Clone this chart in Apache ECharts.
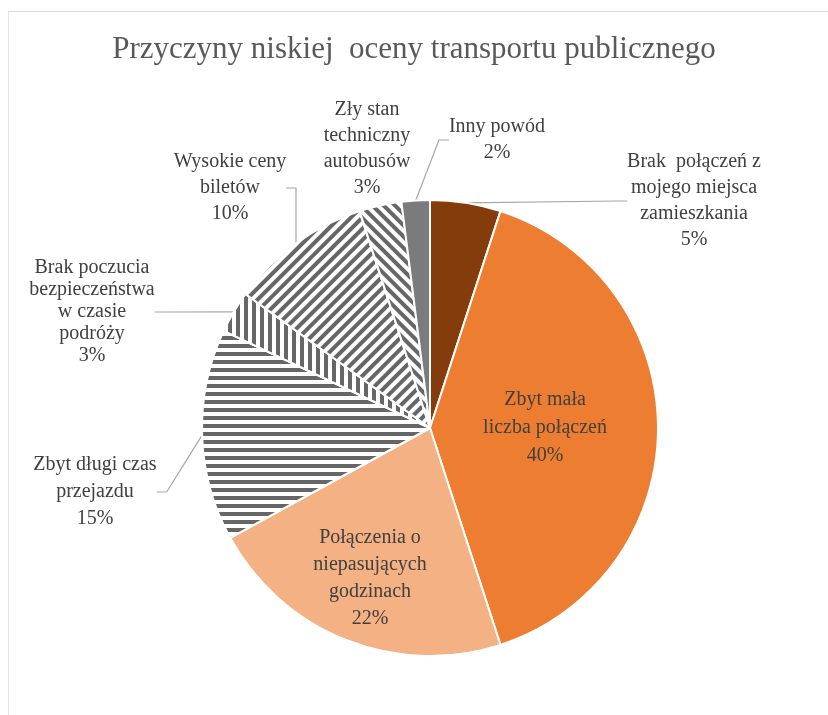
<!DOCTYPE html>
<html>
<head>
<meta charset="utf-8">
<script src="https://cdn.jsdelivr.net/npm/echarts@6/dist/echarts.min.js"></script>
<style>
  html, body { margin: 0; padding: 0; background: #fff; }
  #chart { width: 828px; height: 715px; }
  #frame {
    position: absolute; left: 8px; top: 11px; width: 820px; height: 704px;
    border-top: 1px solid #dcdcdc; border-left: 1px solid #e4e4e4;
    pointer-events: none;
  }
</style>
</head>
<body>
<div id="chart"></div>
<div id="frame"></div>
<script>
// data
const categories = [
  'Brak  połączeń z\nmojego miejsca\nzamieszkania',
  'Zbyt mała\nliczba połączeń',
  'Połączenia o\nniepasujących\ngodzinach',
  'Zbyt długi czas\nprzejazdu',
  'Brak poczucia\nbezpieczeństwa\nw czasie\npodróży',
  'Wysokie ceny\nbiletów',
  'Zły stan\ntechniczny\nautobusów',
  'Inny powód'
];
const values = [5, 40, 22, 15, 3, 10, 3, 2];

// styles
const fills = ['#843c0c', '#ed7d31', '#f4b183', '#ffffff', '#ffffff', '#ffffff', '#ffffff', '#7b7b7b'];
const hatch = [null, null, null, 0, Math.PI / 2, -Math.PI / 4, Math.PI / 4, null];
const showLine = [true, false, false, true, true, true, false, true];
const labelPos = [
  [694, 201], [545, 428], [370, 578], [95, 492],
  [92, 312], [230, 188], [367, 149], [497, 140]
];
const lineHeights = [26, 28, 27, 27, 22, 26, 26, 26];

const pieData = categories.map(function (name, i) {
  const item = {
    name: name,
    value: values[i],
    itemStyle: { color: fills[i] },
    label: { lineHeight: lineHeights[i] },
    labelLine: { show: showLine[i] }
  };
  if (hatch[i] !== null) {
    item.itemStyle.decal = {
      symbol: 'rect',
      symbolSize: 1,
      color: '#666666',
      dashArrayX: [1, 0],
      dashArrayY: [3.5, 4],
      rotation: hatch[i]
    };
  }
  return item;
});

const chart = echarts.init(document.getElementById('chart'));
chart.setOption({
  animation: false,
  title: {
    text: 'Przyczyny niskiej  oceny transportu publicznego',
    left: 'center',
    top: 29,
    textStyle: {
      fontFamily: 'Liberation Serif',
      fontWeight: 'normal',
      fontSize: 31,
      color: '#595959'
    }
  },
  series: [{
    type: 'pie',
    center: [430, 428],
    radius: 228,
    startAngle: 90,
    clockwise: true,
    avoidLabelOverlap: false,
    itemStyle: { borderColor: '#fff', borderWidth: 2 },
    label: {
      show: true,
      formatter: '{b}\n{d}%',
      fontFamily: 'Liberation Serif',
      fontSize: 20,
      color: '#404040',
      align: 'center'
    },
    labelLine: {
      show: true,
      length: 15,
      length2: 10,
      lineStyle: { color: '#a6a6a6', width: 1.2 }
    },
    labelLayout: function (p) {
      const pos = labelPos[p.dataIndex];
      return { x: pos[0], y: pos[1], align: 'center', verticalAlign: 'middle' };
    },
    data: pieData
  }]
});
</script>
</body>
</html>
